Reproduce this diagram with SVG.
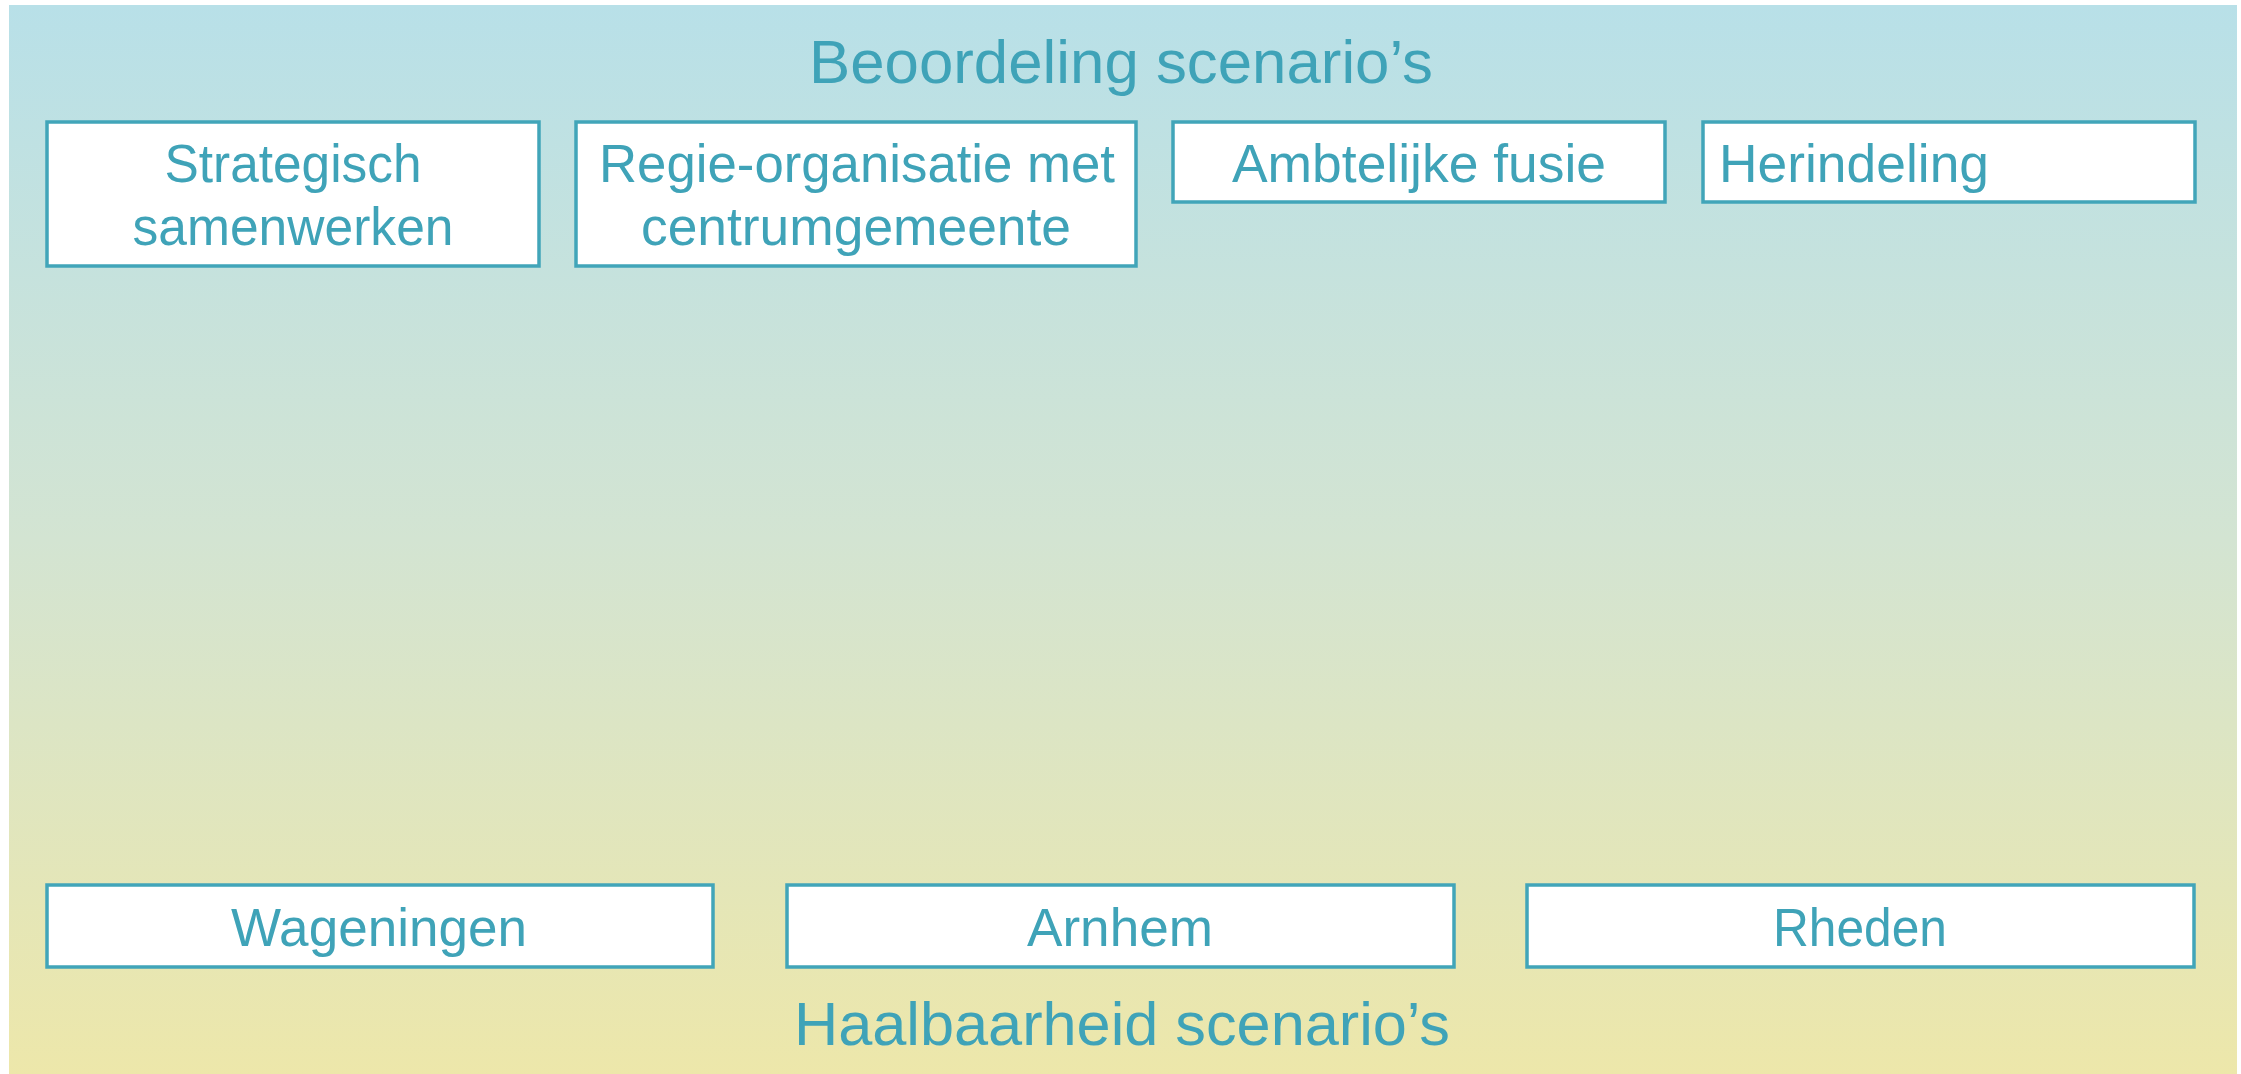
<svg xmlns="http://www.w3.org/2000/svg" width="2241" height="1074" viewBox="0 0 2241 1074">
<defs>
<linearGradient id="bg" x1="0" y1="0" x2="0" y2="1">
<stop offset="0" stop-color="#b8e0e8"/>
<stop offset="0.5" stop-color="#d3e4d2"/>
<stop offset="1" stop-color="#ede7aa"/>
</linearGradient>
<style>
.box{fill:#ffffff;stroke:#41a5b9;stroke-width:3.5}
.t{font-family:"Liberation Sans",Arial,sans-serif;fill:#3fa3b8;font-size:53px}
.h{font-family:"Liberation Sans",Arial,sans-serif;fill:#3fa3b8;font-size:62px}
</style>
</defs>
<rect x="9" y="5" width="2228" height="1069" fill="url(#bg)"/>
<text class="h" x="1121" y="83" text-anchor="middle" textLength="624" lengthAdjust="spacingAndGlyphs">Beoordeling scenario’s</text>
<text class="h" x="1122" y="1045" text-anchor="middle" textLength="656" lengthAdjust="spacingAndGlyphs">Haalbaarheid scenario’s</text>
<g id="n-strategisch">
<rect class="box" x="47" y="122" width="492" height="144"/>
<text class="t" x="293" y="182" text-anchor="middle" textLength="257" lengthAdjust="spacingAndGlyphs">Strategisch</text>
<text class="t" x="293" y="245" text-anchor="middle" textLength="321" lengthAdjust="spacingAndGlyphs">samenwerken</text>
</g>
<g id="n-regie">
<rect class="box" x="576" y="122" width="560" height="144"/>
<text class="t" x="857" y="182" text-anchor="middle" textLength="516" lengthAdjust="spacingAndGlyphs">Regie-organisatie met</text>
<text class="t" x="856" y="245" text-anchor="middle" textLength="430" lengthAdjust="spacingAndGlyphs">centrumgemeente</text>
</g>
<g id="n-ambtelijk">
<rect class="box" x="1173" y="122" width="492" height="80"/>
<text class="t" x="1419" y="182" text-anchor="middle" textLength="374" lengthAdjust="spacingAndGlyphs">Ambtelijke fusie</text>
</g>
<g id="n-herindeling">
<rect class="box" x="1703" y="122" width="492" height="80"/>
<text class="t" x="1719" y="182" textLength="270" lengthAdjust="spacingAndGlyphs">Herindeling</text>
</g>
<g id="n-wageningen">
<rect class="box" x="47" y="885" width="666" height="82"/>
<text class="t" x="379" y="946" text-anchor="middle" textLength="296" lengthAdjust="spacingAndGlyphs">Wageningen</text>
</g>
<g id="n-arnhem">
<rect class="box" x="787" y="885" width="667" height="82"/>
<text class="t" x="1120" y="946" text-anchor="middle" textLength="186" lengthAdjust="spacingAndGlyphs">Arnhem</text>
</g>
<g id="n-rheden">
<rect class="box" x="1527" y="885" width="667" height="82"/>
<text class="t" x="1860" y="946" text-anchor="middle" textLength="174" lengthAdjust="spacingAndGlyphs">Rheden</text>
</g>
<g id="connectors"></g>
</svg>
